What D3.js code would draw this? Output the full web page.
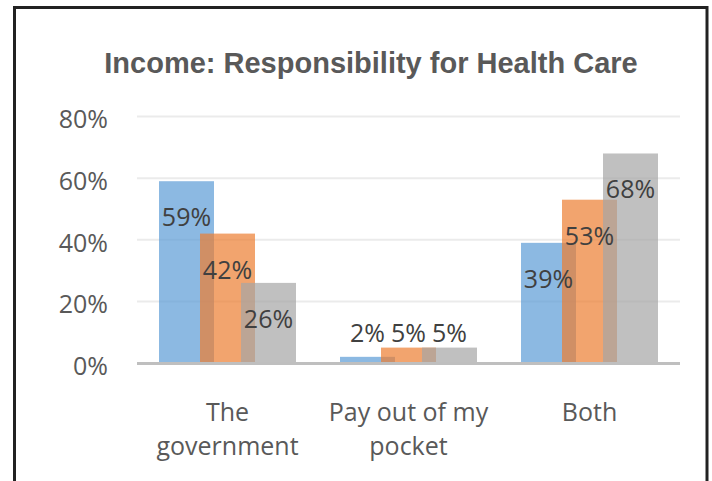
<!DOCTYPE html>
<html>
<head>
<meta charset="utf-8">
<script src="https://cdn.jsdelivr.net/npm/d3@7"></script>
<style>
  body { margin: 0; background: #fff; }
  svg { display: block; }
</style>
</head>
<body>
<svg width="712" height="481"></svg>
<script>
// data
var categories = ["The government", "Pay out of my pocket", "Both"];
var catLines = [["The", "government"], ["Pay out of my", "pocket"], ["Both"]];
var series = ["Low income", "Middle income", "High income"];
var lowVals = [0.59, 0.02, 0.39];
var midVals = [0.42, 0.05, 0.53];
var highVals = [0.26, 0.05, 0.68];
var yTicks = [0, 0.2, 0.4, 0.6, 0.8];
var colors = ["#5B9BD5", "#ED7D31", "#A5A5A5"];

var values = [lowVals, midVals, highVals];

var svg = d3.select("svg");

// frame
svg.append("rect")
   .attr("x", 14.5).attr("y", 7.5)
   .attr("width", 692.5).attr("height", 490)
   .attr("fill", "#fff")
   .attr("stroke", "#222").attr("stroke-width", 3);

svg.append("text")
   .attr("x", 371).attr("y", 73)
   .attr("text-anchor", "middle")
   .attr("font-family", "Liberation Sans, Arial, sans-serif")
   .attr("font-weight", "bold")
   .attr("font-size", 29)
   .attr("fill", "#595959")
   .text("Income: Responsibility for Health Care");

var x0 = d3.scaleBand().domain(categories).range([137, 680]);
var x1 = d3.scalePoint().domain(series).range([-41, 41]);
var barW = 55;
var y = d3.scaleLinear().domain([0, 0.8]).range([363, 116.5]);

var fontBody = "Open Sans, sans-serif";

// gridlines
svg.append("g").selectAll("line")
   .data(yTicks.filter(function(d) { return d > 0; }))
   .enter().append("line")
   .attr("x1", 137).attr("x2", 680)
   .attr("y1", function(d) { return y(d); })
   .attr("y2", function(d) { return y(d); })
   .attr("stroke", "#EBEBEB").attr("stroke-width", 2);

// y labels
var yAxis = svg.append("g")
   .attr("transform", "translate(108,0)")
   .call(d3.axisLeft(y).tickValues(yTicks).tickSize(0).tickPadding(0)
      .tickFormat(function(d) { return Math.round(d * 100) + "%"; }));
yAxis.select(".domain").remove();
yAxis.selectAll("text")
   .attr("font-family", fontBody)
   .attr("font-size", 25)
   .attr("fill", "#595959")
   .attr("dy", "0.45em");

// bars
series.forEach(function(s, i) {
  svg.append("g").selectAll("rect")
     .data(values[i])
     .enter().append("rect")
     .attr("x", function(d, j) { return x0(categories[j]) + x0.bandwidth() / 2 + x1(s) - barW / 2; })
     .attr("y", function(d) { return y(d); })
     .attr("width", barW)
     .attr("height", function(d) { return y(0) - y(d); })
     .attr("fill", colors[i])
     .attr("fill-opacity", 0.7);
});

// baseline
svg.append("line")
   .attr("x1", 137).attr("x2", 680)
   .attr("y1", y(0) + 0.5).attr("y2", y(0) + 0.5)
   .attr("stroke", "#BFBFBF").attr("stroke-width", 3);

// value labels
series.forEach(function(s, i) {
  svg.append("g").selectAll("text")
     .data(values[i])
     .enter().append("text")
     .attr("x", function(d, j) { return x0(categories[j]) + x0.bandwidth() / 2 + x1(s); })
     .attr("y", function(d) { return Math.min(y(d) + 36, y(0) - 30) + 9; })
     .attr("text-anchor", "middle")
     .attr("font-family", fontBody)
     .attr("font-size", 25)
     .attr("fill", "#404040")
     .text(function(d) { return Math.round(d * 100) + "%"; });
});

// category labels
var cat = svg.append("g").selectAll("text")
   .data(catLines)
   .enter().append("text")
   .attr("text-anchor", "middle")
   .attr("font-family", fontBody)
   .attr("font-size", 25)
   .attr("fill", "#595959");
cat.each(function(lines, j) {
  var t = d3.select(this);
  lines.forEach(function(l, k) {
    t.append("tspan")
     .attr("x", x0(categories[j]) + x0.bandwidth() / 2)
     .attr("y", 421 + k * 34)
     .text(l);
  });
});
</script>
</body>
</html>
